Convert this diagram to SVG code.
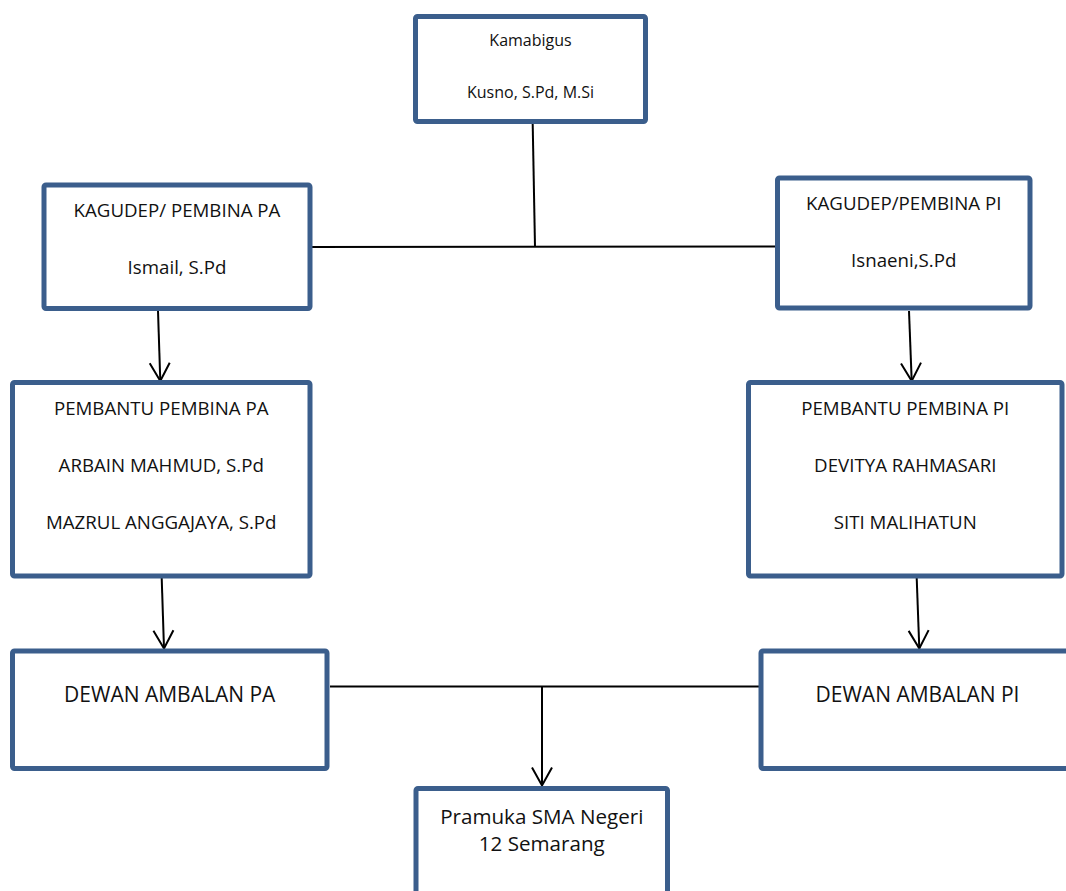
<svg xmlns="http://www.w3.org/2000/svg" width="1066" height="891" viewBox="0 0 1066 891">
  <style>
    .box { fill: #ffffff; stroke: #3B5E8C; stroke-width: 5; }
    .conn { fill: none; stroke: #000000; stroke-width: 2; }
    text { font-family: "Open Sans", "Liberation Sans", sans-serif; fill: #111111; text-anchor: middle; }
    .t16 { font-size: 16px; }
    .t19 { font-size: 18.7px; }
    .t20 { font-size: 20.6px; }
    .t21 { font-size: 21px; }
  </style>
  <defs>
    <marker id="vhead" markerUnits="userSpaceOnUse" orient="auto" refX="0" refY="0" markerWidth="20" markerHeight="24" overflow="visible">
      <path d="M-18,-10 L0,0 L-18,10" fill="none" stroke="#000000" stroke-width="2" stroke-linejoin="miter"/>
    </marker>
  </defs>
  <rect x="0" y="0" width="1066" height="891" fill="#ffffff"/>

  <g id="connectors">
    <line class="conn" x1="532.7" y1="124" x2="535" y2="247"/>
    <line class="conn" x1="310" y1="247" x2="777" y2="246.5"/>
    <line class="conn" x1="158" y1="311" x2="160.3" y2="381" marker-end="url(#vhead)"/>
    <line class="conn" x1="909" y1="311" x2="911.7" y2="381" marker-end="url(#vhead)"/>
    <line class="conn" x1="161.7" y1="578" x2="164" y2="648.5" marker-end="url(#vhead)"/>
    <line class="conn" x1="916.7" y1="578" x2="919.3" y2="648.5" marker-end="url(#vhead)"/>
    <line class="conn" x1="330" y1="686.5" x2="760" y2="686.5"/>
    <line class="conn" x1="542" y1="686.5" x2="542" y2="785.5" marker-end="url(#vhead)"/>
  </g>

  <g id="kamabigus">
    <rect class="box" x="415.5" y="16.5" width="230" height="105" rx="2"/>
    <text class="t16" x="530.5" y="46">Kamabigus</text>
    <text class="t16" x="530.5" y="98">Kusno, S.Pd, M.Si</text>
  </g>

  <g id="kagudep-pa">
    <rect class="box" x="44" y="185" width="266" height="123.5" rx="2"/>
    <text class="t19" x="177" y="216.7">KAGUDEP/ PEMBINA PA</text>
    <text class="t19" x="177" y="274">Ismail, S.Pd</text>
  </g>

  <g id="kagudep-pi">
    <rect class="box" x="777.5" y="178" width="252.5" height="130" rx="2"/>
    <text class="t19" x="903.75" y="210">KAGUDEP/PEMBINA PI</text>
    <text class="t19" x="903.75" y="266.7">Isnaeni,S.Pd</text>
  </g>

  <g id="pembantu-pa">
    <rect class="box" x="12.5" y="382.5" width="297.5" height="193.5" rx="2"/>
    <text class="t19" x="161.25" y="415">PEMBANTU PEMBINA PA</text>
    <text class="t19" x="161.25" y="471.7">ARBAIN MAHMUD, S.Pd</text>
    <text class="t19" x="161.25" y="529">MAZRUL ANGGAJAYA, S.Pd</text>
  </g>

  <g id="pembantu-pi">
    <rect class="box" x="748.5" y="382.5" width="313.5" height="193.5" rx="2"/>
    <text class="t19" x="905.25" y="415">PEMBANTU PEMBINA PI</text>
    <text class="t19" x="905.25" y="471.7">DEVITYA RAHMASARI</text>
    <text class="t19" x="905.25" y="529">SITI MALIHATUN</text>
  </g>

  <g id="dewan-pa">
    <rect class="box" x="12.5" y="651" width="314.5" height="117.5" rx="2"/>
    <text class="t21" x="169.75" y="701.7">DEWAN AMBALAN PA</text>
  </g>

  <g id="dewan-pi">
    <rect class="box" x="761" y="651" width="313" height="117.5" rx="2"/>
    <text class="t21" x="917.5" y="701.7">DEWAN AMBALAN PI</text>
  </g>

  <g id="pramuka">
    <rect class="box" x="416" y="788.5" width="251.5" height="130" rx="2"/>
    <text class="t20" x="541.75" y="824">Pramuka SMA Negeri</text>
    <text class="t20" x="541.75" y="850.7">12 Semarang</text>
  </g>
</svg>
